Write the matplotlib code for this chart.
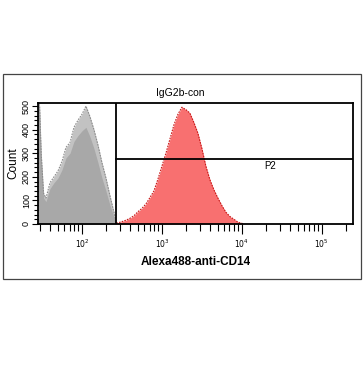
import matplotlib
matplotlib.use("Agg")
import matplotlib.pyplot as plt
import numpy as np
from matplotlib.patches import Rectangle
from matplotlib.ticker import FixedLocator, MultipleLocator

plt.rcParams['font.family'] = ['Liberation Sans', 'DejaVu Sans']

# gray control histogram (log10 bin centres, counts)
gray_log = [1.45, 1.47, 1.49, 1.52, 1.55, 1.60, 1.65, 1.70, 1.75, 1.80, 1.85, 1.90, 1.95,
            2.00, 2.05, 2.10, 2.15, 2.20, 2.25, 2.30, 2.35, 2.40, 2.43]
gray_outer = [520, 500, 300, 130, 110, 175, 200, 225, 265, 325, 345, 410, 440,
              465, 500, 455, 400, 335, 260, 195, 120, 50, 5]
gray_inner = [520, 480, 280, 110, 95, 150, 175, 195, 230, 280, 300, 350, 375,
              395, 410, 370, 320, 260, 195, 140, 80, 30, 3]

# red CD14 histogram
red_log = [2.43, 2.50, 2.55, 2.60, 2.65, 2.70, 2.75, 2.80, 2.85, 2.90, 2.95,
           3.00, 3.05, 3.10, 3.15, 3.20, 3.25, 3.30, 3.35, 3.40, 3.45, 3.50,
           3.55, 3.60, 3.65, 3.70, 3.75, 3.80, 3.85, 3.90, 3.95, 4.00, 4.02]
red_counts = [3, 10, 16, 24, 35, 52, 66, 85, 112, 140, 190,
              245, 300, 360, 420, 465, 495, 485, 470, 430, 385, 320,
              245, 188, 145, 110, 78, 50, 32, 20, 8, 3, 0]

gate_x = 266
gate_y = 275
y_ticks = [0, 100, 200, 300, 400, 500]
x_ticks = [1e2, 1e3, 1e4, 1e5]
x_labels = ['$10^{2}$', '$10^{3}$', '$10^{4}$', '$10^{5}$']

fig = plt.figure(figsize=(3.64, 3.67), dpi=100)
fig.patches.append(Rectangle((3/364, 1-279/367), 358/364, 205/367,
                             transform=fig.transFigure, fill=False,
                             edgecolor='#444444', linewidth=0.9))

ax = fig.add_axes([38/364, 1-224/367, 315/364, 121/367])

gx = 10 ** np.array(gray_log)
rx = 10 ** np.array(red_log)
ax.fill_between(gx, gray_outer, color='#c2c2c2', linewidth=0)
ax.plot(gx, gray_outer, color='#8c8c8c', linewidth=0.8, linestyle=(0, (1.5, 1)))
ax.fill_between(gx, gray_inner, color='#a8a8a8', linewidth=0)
ax.fill_between(rx, red_counts, color='#f87070', linewidth=0)
ax.plot(rx, red_counts, color='#c81818', linewidth=0.8, linestyle=(0, (1.5, 1)))

ax.set_xscale('log')
ax.set_xlim(10 ** 1.45, 10 ** 5.39)
ax.set_ylim(0, 513)

# gate P2
ax.axvline(gate_x, color='black', linewidth=1.3)
ax.plot([gate_x, 10 ** 5.39], [gate_y, gate_y], color='black', linewidth=1.3)
ax.text(10 ** 4.35, gate_y - 10, 'P2', fontsize=7, ha='center', va='top')

for s in ax.spines.values():
    s.set_linewidth(1.3)

ax.xaxis.set_major_locator(FixedLocator(x_ticks))
ax.set_xticklabels(x_labels, fontsize=5.5)
ax.yaxis.set_major_locator(FixedLocator(y_ticks))
ax.yaxis.set_minor_locator(MultipleLocator(20))
ax.set_yticklabels([str(v) for v in y_ticks], fontsize=6.5, rotation=90, va='center')
ax.tick_params(axis='x', which='major', length=7, width=0.8, pad=3)
ax.tick_params(axis='x', which='minor', length=5, width=0.8)
ax.tick_params(axis='y', which='major', length=4, width=0.8, pad=1)
ax.tick_params(axis='y', which='minor', length=3, width=0.8)

fig.text(180/364, 1-93/367, 'IgG2b-con', fontsize=7.5, ha='center', va='center')
ax.set_xlabel('Alexa488-anti-CD14', fontsize=8.5, fontweight='bold', labelpad=4)
ax.set_ylabel('Count', fontsize=8.5, labelpad=2)

fig.savefig('out.png', dpi=100)
